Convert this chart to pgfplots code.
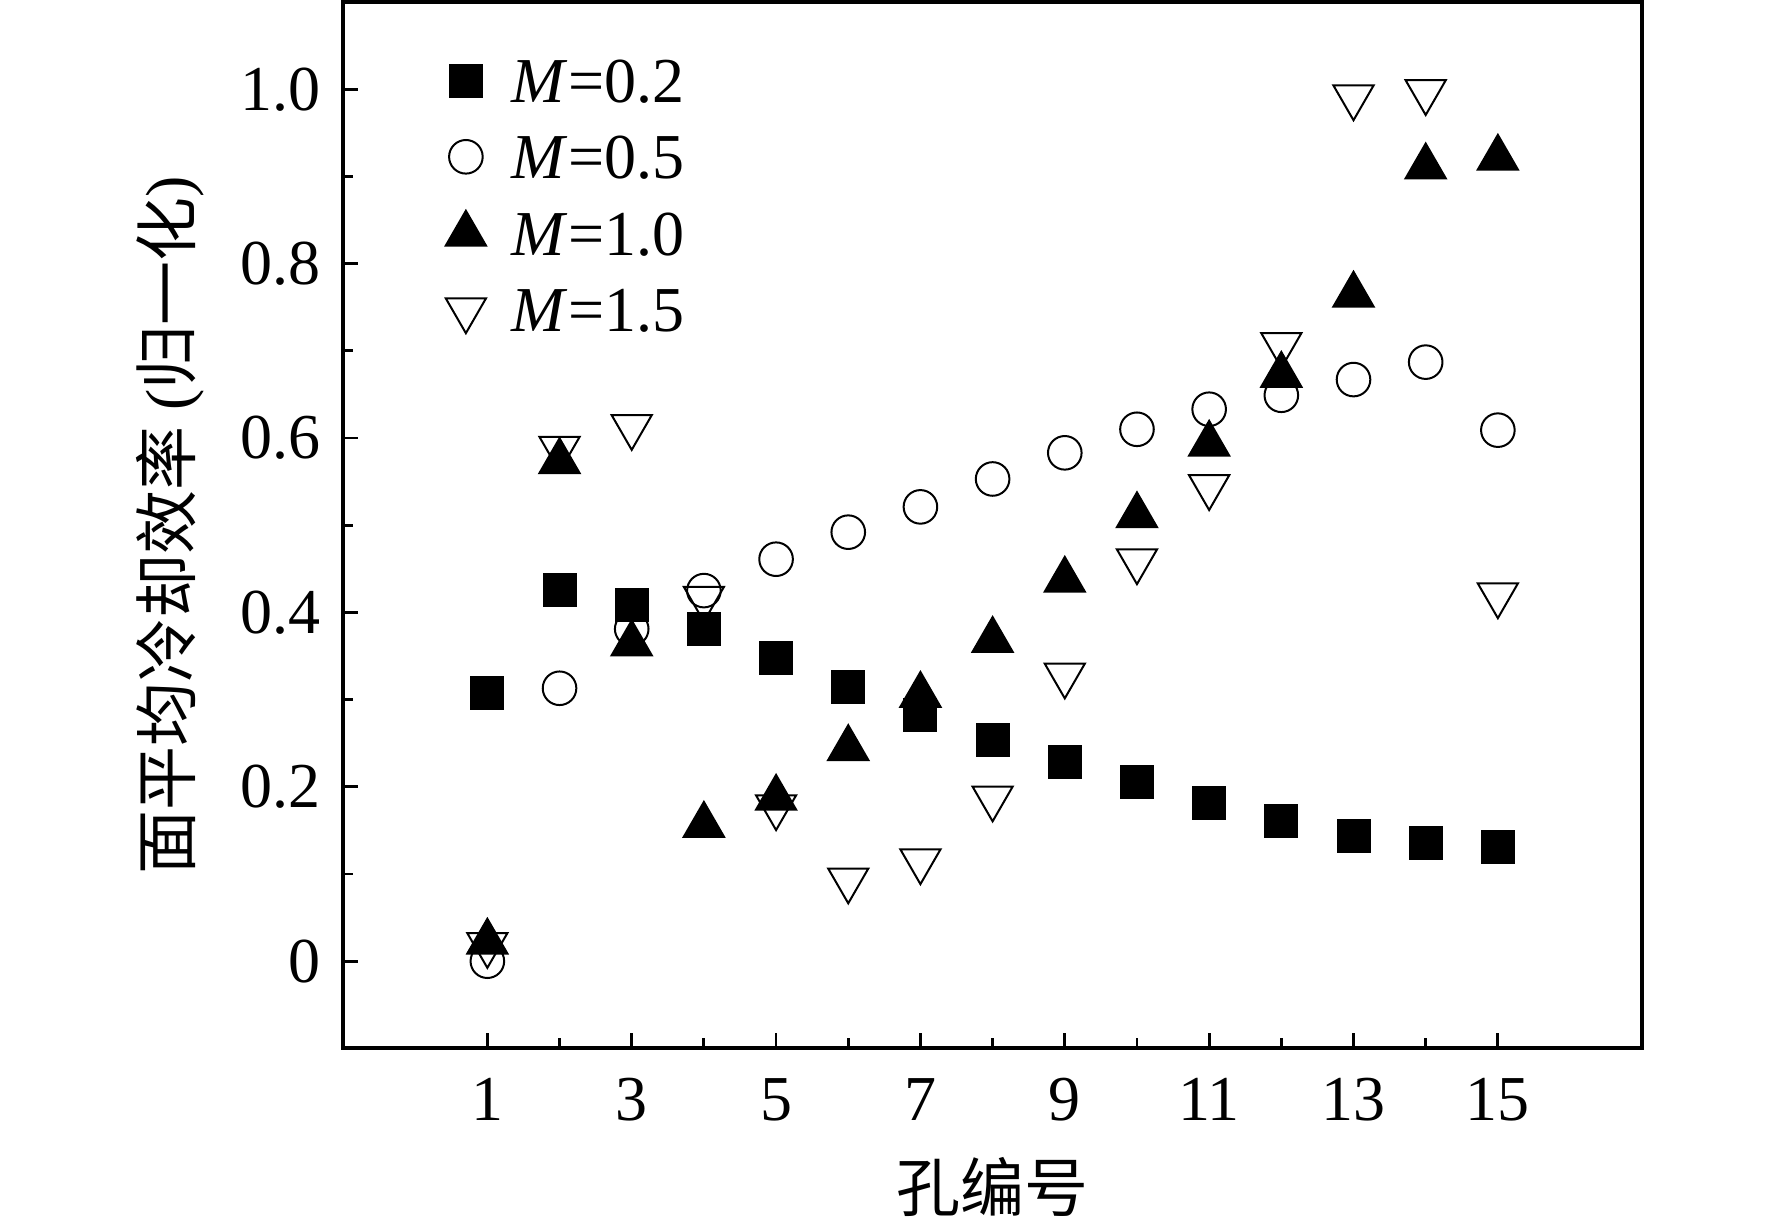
\documentclass[border=0pt]{standalone}
\usepackage{fontspec}
\setmainfont{Liberation Serif}
\newfontfamily\cjk{Noto Sans CJK SC}
\usepackage{pgfplots}
\pgfplotsset{compat=1.18}
\begin{document}
\fontsize{16}{19}\selectfont
\begin{tikzpicture}
\begin{axis}[
  scale only axis, width=324.8pt, height=261.6pt,
  xmin=-1, xmax=17, ymin=-0.1, ymax=1.1,
  xtick={1,3,...,15}, minor xtick={2,4,...,14},
  ytick={0,0.2,0.4,0.6,0.8,1.0}, yticklabels={0,0.2,0.4,0.6,0.8,1.0},
  minor ytick={0.1,0.3,0.5,0.7,0.9},
  tick pos=left, tick align=inside,
  major tick length=3.75pt, minor tick length=2.5pt,
  axis line style={line width=1pt},
  every tick/.style={line width=0.7pt, black},
  /pgf/number format/assume math mode=true,
  tick label style={font=\fontsize{16}{19}\selectfont},
  every x tick label/.append style={yshift=-2pt},
  xlabel={\cjk 孔编号},
  ylabel={{\cjk 面平均冷却效率} ({\cjk 归一化})},
  xlabel style={at={(rel axis cs:0.5,0)}, anchor=center, yshift=-34.75pt, font=\fontsize{16}{19}\selectfont},
  ylabel style={at={(rel axis cs:0,0.5)}, anchor=center, yshift=43.25pt, font=\fontsize{16}{19}\selectfont},
  legend style={draw=none, fill=none, at={(rel axis cs:0,1)}, xshift=25.5pt, yshift=-14pt, anchor=north west,
    inner sep=0pt, row sep=8pt, column sep=6.5pt, font=\fontsize{16}{19}\selectfont,
    nodes={inner sep=0pt, text height=11pt, text depth=0pt}},
  legend cell align=left,
]
\addplot[only marks, mark=square*, mark size=4pt, black, mark options={line width=0.5pt}] coordinates {
(1,0.307) (2,0.426) (3,0.408) (4,0.381) (5,0.348) (6,0.315) (7,0.282) (8,0.254)
(9,0.228) (10,0.205) (11,0.181) (12,0.161) (13,0.144) (14,0.135) (15,0.131)};
\addlegendentry{\textit{M}=0.2}
\addplot[only marks, mark=o, mark size=4.2pt, black, mark options={line width=0.5pt}] coordinates {
(1,0.0) (2,0.313) (3,0.381) (4,0.425) (5,0.461) (6,0.492) (7,0.521) (8,0.553)
(9,0.583) (10,0.610) (11,0.633) (12,0.649) (13,0.667) (14,0.687) (15,0.609)};
\addlegendentry{\textit{M}=0.5}
\addplot[only marks, mark=triangle*, mark size=5.8pt, black, mark options={line width=0.5pt}] coordinates {
(1,0.022) (2,0.573) (3,0.364) (4,0.156) (5,0.187) (6,0.244) (7,0.305) (8,0.368)
(9,0.437) (10,0.511) (11,0.593) (12,0.672) (13,0.764) (14,0.911) (15,0.921)};
\addlegendentry{\textit{M}=1.0}
\addplot[only marks, mark=triangle, mark size=5.8pt, black, mark options={rotate=180, line width=0.5pt}] coordinates {
(1,0.019) (2,0.588) (3,0.613) (4,0.416) (5,0.177) (6,0.093) (7,0.115) (8,0.187)
(9,0.328) (10,0.459) (11,0.544) (12,0.707) (13,0.991) (14,0.997) (15,0.420)};
\addlegendentry{\textit{M}=1.5}
\end{axis}
\pgfresetboundingbox
\path[use as bounding box] ([shift={(-85.75pt,-45.15pt)}]current axis.south west) rectangle ([shift={(32.45pt,0.5pt)}]current axis.north east);
\end{tikzpicture}
\end{document}
